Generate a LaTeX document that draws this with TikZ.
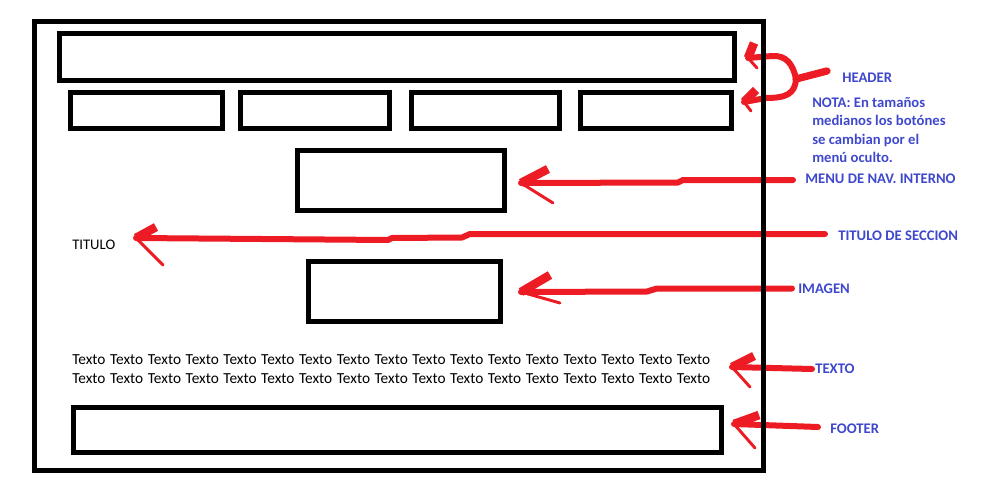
\documentclass[tikz,border=0pt]{standalone}
\usepackage{fontspec}
\setmainfont{Carlito}
\usetikzlibrary{fit}
\definecolor{inkred}{HTML}{ED1C24}
\definecolor{labelblue}{HTML}{3F48CC}
\newcommand{\tightwords}{\spaceskip=3.4pt plus 0pt minus 0pt\relax}
\begin{document}
\begin{tikzpicture}[x=0.75pt,y=-0.75pt,
  box/.style={draw=black,line width=3.75pt,inner sep=0pt,outer sep=0pt,fit={#1}},
  shaft/.style={draw=inkred,line width=4.5pt,line cap=round,line join=round},
  barbthick/.style={draw=inkred,line width=6.5pt,line cap=butt},
  barbthin/.style={draw=inkred,line width=2.2pt,line cap=round},
  lbl/.style={text=labelblue,font=\bfseries\fontsize{11}{13}\selectfont,anchor=base west,inner sep=0pt},
  body/.style={text=black,font=\fontsize{11.5}{13}\selectfont,anchor=base west,inner sep=0pt}]
\useasboundingbox (0,0) rectangle (1000,500);

% labels on the right
\node[lbl] (hdrLbl)   at (842,82)  {HEADER};
\node[lbl] (nota1)    at (812,107) {NOTA: En tamaños};
\node[lbl] (nota2)    at (812,125.5) {medianos los botónes};
\node[lbl] (nota3)    at (812,144) {se cambian por el};
\node[lbl] (nota4)    at (812,162) {menú oculto.};
\node[lbl] (menuLbl)  at (805,183) {MENU DE NAV. INTERNO};
\node[lbl] (titLbl)   at (838,240) {TITULO DE SECCION};
\node[lbl] (imgLbl)   at (798,293) {IMAGEN};
\node[lbl] (txtLbl)   at (815,373.5) {TEXTO};
\node[lbl] (footLbl)  at (830,433) {FOOTER};

% page content text
\node[body,font=\fontsize{11}{13}\selectfont] (titulo) at (72,249) {TITULO};
\node[body] (line1) at (72,364) {\tightwords Texto Texto Texto Texto Texto Texto Texto Texto Texto Texto Texto Texto Texto Texto Texto Texto Texto};
\node[body] (line2) at (72,383) {\tightwords Texto Texto Texto Texto Texto Texto Texto Texto Texto Texto Texto Texto Texto Texto Texto Texto Texto};

% arrow end points
\coordinate (hdrStart) at (827,71);
\coordinate (brace) at (796,79);
\coordinate (hdrTipA) at (748,58);
\coordinate (hdrTipB) at (744,102);
\coordinate (menuStart) at (793,180);
\coordinate (menuTip) at (521,183);
\coordinate (titStart) at (825,234);
\coordinate (titTip) at (136,238);
\coordinate (imgStart) at (792,288.5);
\coordinate (imgTip) at (521,292);
\coordinate (txtStart) at (812,369);
\coordinate (txtTip) at (732,367);
\coordinate (footStart) at (818,427);
\coordinate (footTip) at (734,424);

% header brace with two arrows
\draw[shaft,line width=5.5pt] (hdrStart) -- (brace);
\draw[shaft] (brace) .. controls (793,64) and (786,55) .. (772,56) -- (hdrTipA);
\draw[shaft] (brace) .. controls (795,94) and (786,98) .. (766,98) -- (hdrTipB);
\draw[barbthick] (hdrTipA) -- (754,43);
\draw[barbthin] (hdrTipA) -- (757,68);
\draw[barbthick] (hdrTipB) -- (756,90);
\draw[barbthin] (hdrTipB) -- (751,111);

% menu arrow
\draw[shaft] (menuStart) -- (683,180) -- (678,182.5) -- (menuTip);
\draw[barbthick] (menuTip) -- (548,169);
\draw[barbthin] (menuTip) -- (553,203);

% section title arrow
\draw[shaft] (titStart) -- (470,234) -- (462,237.5) -- (392,238) -- (388,240) -- (titTip);
\draw[barbthick] (titTip) -- (156,227);
\draw[barbthin] (titTip) -- (163,265);

% image arrow
\draw[shaft] (imgStart) -- (657,288.5) -- (647,291.5) -- (imgTip);
\draw[barbthick] (imgTip) -- (550,275);
\draw[barbthin] (imgTip) -- (560,303);

% text arrow
\draw[shaft] (txtStart) -- (txtTip);
\draw[barbthick] (txtTip) -- (754,356);
\draw[barbthin] (txtTip) -- (750,387);

% footer arrow
\draw[shaft] (footStart) -- (footTip);
\draw[barbthick] (footTip) -- (759,415);
\draw[barbthin] (footTip) -- (755,448);

% page wireframe
\node[box={(34.5,21.5) (763.5,470)}] (page) {};
\node[box={(59,33.5) (734.5,80.5)}] (header) {};
\node[box={(70.5,92.5) (222,128)}] (btn1) {};
\node[box={(240.5,92.5) (389.5,128)}] (btn2) {};
\node[box={(411.5,92.5) (559.5,128)}] (btn3) {};
\node[box={(580.5,92.5) (731,128)}] (btn4) {};
\node[box={(297.5,150.5) (504.5,210.5)}] (menu) {};
\node[box={(308.5,261.5) (500.5,321.5)}] (image) {};
\node[box={(73.5,407.5) (721.5,452)}] (footer) {};
\end{tikzpicture}
\end{document}
